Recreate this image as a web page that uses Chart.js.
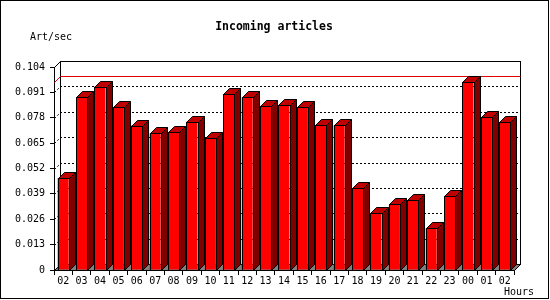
<!DOCTYPE html>
<html>
<head>
<meta charset="utf-8">
<title>Incoming articles</title>
<script src="https://cdn.jsdelivr.net/npm/chart.js@4.4.1/dist/chart.umd.min.js"></script>
<style>
  html, body { margin: 0; padding: 0; background: #fff; }
  #chart { display: block; }
</style>
</head>
<body>
<canvas id="chart" width="550" height="300"></canvas>
<script>
const hours = ['02', '03', '04', '05', '06', '07', '08', '09', '10', '11', '12', '13',
  '14', '15', '16', '17', '18', '19', '20', '21', '22', '23', '00', '01', '02'];
const articlesPerSec = [0.0471, 0.0885, 0.0940, 0.0833, 0.0740, 0.0700, 0.0705, 0.0759,
  0.0674, 0.0901, 0.0884, 0.0838, 0.0843, 0.0833, 0.0741, 0.0741, 0.0418, 0.0290,
  0.0336, 0.0357, 0.0213, 0.0377, 0.0961, 0.0782, 0.0756];
const yTickValues = [0, 0.013, 0.026, 0.039, 0.052, 0.065, 0.078, 0.091, 0.104];
const yTickLabels = ['0', '0.013', '0.026', '0.039', '0.052', '0.065', '0.078', '0.091', '0.104'];

const DEPTH_X = 6;
const DEPTH_Y = 6;
const MONO = '"DejaVu Sans Mono", "Liberation Mono", monospace';

// round to pixel centre so 1px strokes stay crisp
const px = (v) => Math.round(v) + 0.5;

const depthPlugin = {
  id: 'depth',
  beforeDatasetsDraw(chart) {
    const { ctx, chartArea: area, scales } = chart;
    const left = px(area.left), right = px(area.right);
    const top = px(area.top), bottom = px(area.bottom);

    ctx.save();
    ctx.lineWidth = 1;

    // floor
    ctx.fillStyle = '#808080';
    ctx.strokeStyle = '#000';
    ctx.beginPath();
    ctx.moveTo(left, bottom);
    ctx.lineTo(right, bottom);
    ctx.lineTo(right + DEPTH_X, bottom - DEPTH_Y);
    ctx.lineTo(left + DEPTH_X, bottom - DEPTH_Y);
    ctx.closePath();
    ctx.fill();
    ctx.stroke();

    // back wall and left wall edges
    ctx.strokeRect(left + DEPTH_X, top - DEPTH_Y, right - left, bottom - top);
    ctx.beginPath();
    ctx.moveTo(left, top);
    ctx.lineTo(left + DEPTH_X, top - DEPTH_Y);
    ctx.stroke();

    // dotted grid lines on the back wall
    ctx.setLineDash([2, 2]);
    yTickValues.slice(1, -1).forEach((v) => {
      const y = px(scales.y.getPixelForValue(v));
      ctx.beginPath();
      ctx.moveTo(left, y);
      ctx.lineTo(left + DEPTH_X, y - DEPTH_Y);
      ctx.lineTo(right + DEPTH_X, y - DEPTH_Y);
      ctx.stroke();
    });
    ctx.setLineDash([]);

    // maximum value line
    const maxY = px(scales.y.getPixelForValue(Math.max(...articlesPerSec)));
    ctx.strokeStyle = '#e00000';
    ctx.beginPath();
    ctx.moveTo(left, maxY);
    ctx.lineTo(left + DEPTH_X, maxY - DEPTH_Y);
    ctx.lineTo(right + DEPTH_X, maxY - DEPTH_Y);
    ctx.stroke();
    ctx.restore();
  },
  afterDatasetsDraw(chart) {
    const { ctx } = chart;
    const meta = chart.getDatasetMeta(0);
    ctx.save();
    ctx.lineWidth = 1;
    ctx.strokeStyle = '#000';
    meta.data.forEach((bar) => {
      const { x, y, base, width } = bar.getProps(['x', 'y', 'base', 'width'], true);
      const l = px(x - width / 2), r = px(x + width / 2);
      const t = px(y), b = px(base);

      // side face
      ctx.fillStyle = '#800000';
      ctx.beginPath();
      ctx.moveTo(r, t);
      ctx.lineTo(r + DEPTH_X, t - DEPTH_Y);
      ctx.lineTo(r + DEPTH_X, b - DEPTH_Y);
      ctx.lineTo(r, b);
      ctx.closePath();
      ctx.fill();
      ctx.stroke();

      // top face
      ctx.fillStyle = '#c00000';
      ctx.beginPath();
      ctx.moveTo(l, t);
      ctx.lineTo(l + DEPTH_X, t - DEPTH_Y);
      ctx.lineTo(r + DEPTH_X, t - DEPTH_Y);
      ctx.lineTo(r, t);
      ctx.closePath();
      ctx.fill();
      ctx.stroke();

      // crisp front outline
      ctx.strokeRect(l, t, r - l, b - t);
    });
    ctx.restore();
  },
  afterDraw(chart) {
    const { ctx } = chart;
    ctx.save();
    ctx.fillStyle = '#000';
    ctx.textBaseline = 'middle';

    ctx.font = 'bold 11.5px ' + MONO;
    ctx.textAlign = 'center';
    ctx.fillText('Incoming articles', 274, 27);

    ctx.font = '10px ' + MONO;
    ctx.textAlign = 'left';
    ctx.fillText('Art/sec', 30, 37);
    ctx.fillText('Hours', 504, 292);

    // outer frame
    ctx.strokeStyle = '#000';
    ctx.lineWidth = 1;
    ctx.strokeRect(0.5, 0.5, 548, 298);
    ctx.restore();
  }
};

new Chart(document.getElementById('chart'), {
  type: 'bar',
  data: {
    labels: hours,
    datasets: [
      {
        label: 'Incoming articles',
        data: articlesPerSec,
        backgroundColor: '#ff0000',
        borderColor: '#000',
        borderWidth: 0,
        barPercentage: 0.8,
        categoryPercentage: 0.75
      }
    ]
  },
  options: {
    responsive: false,
    animation: false,
    devicePixelRatio: 1,
    layout: { padding: { top: 67, right: 36, bottom: 0, left: 0 } },
    plugins: {
      legend: { display: false },
      tooltip: { enabled: false },
      title: { display: false }
    },
    scales: {
      x: {
        offset: true,
        afterFit: (scale) => { scale.height = 30; },
        grid: {
          offset: true,
          drawOnChartArea: false,
          drawTicks: true,
          tickLength: 5,
          color: '#000'
        },
        border: { display: true, color: '#000' },
        ticks: {
          color: '#000',
          font: { family: MONO, size: 10 },
          padding: 0,
          maxRotation: 0,
          autoSkip: false
        }
      },
      y: {
        min: 0,
        max: 0.104,
        afterFit: (scale) => { scale.width = 54; },
        afterBuildTicks: (scale) => {
          scale.ticks = yTickValues.map((value) => ({ value }));
        },
        grid: {
          drawOnChartArea: false,
          drawTicks: true,
          tickLength: 4,
          color: '#000'
        },
        border: { display: true, color: '#000' },
        ticks: {
          color: '#000',
          font: { family: MONO, size: 10 },
          padding: 5,
          callback: (value, index) => yTickLabels[index]
        }
      }
    }
  },
  plugins: [depthPlugin]
});
</script>
</body>
</html>
